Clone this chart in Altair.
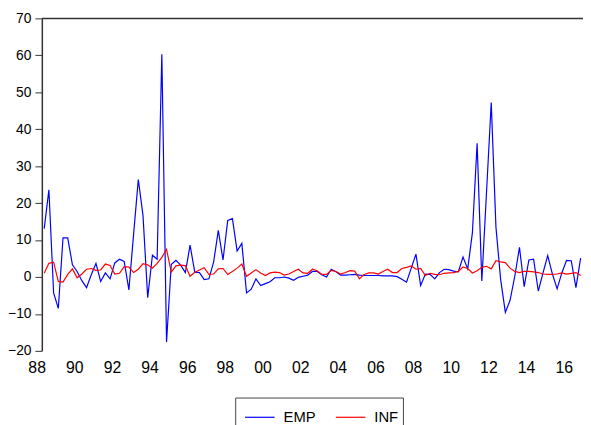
import altair as alt
import pandas as pd

FONT = "Liberation Sans"

# Quarterly observations, first one 1988Q4
first_year, first_quarter = 1988, 4

emp = [13.1, 23.6, -4.3, -8.5, 10.6, 10.6, 3.3, 1.5, -1.0, -2.9,
       0.6, 3.7, -1.2, 1.1, -0.5, 3.8, 4.8, 4.2, -3.5, 11.6,
       26.4, 16.6, -5.6, 5.9, 4.8, 60.3, -17.6, 3.4, 4.5, 3.2,
       1.2, 8.6, 1.3, 1.2, -0.7, -0.5, 4.0, 12.6, 4.6, 15.3,
       15.8, 7.0, 9.1, -4.3, -3.3, -0.5, -2.3, -1.8, -1.3, -0.2,
       -0.2, 0.0, -0.3, -0.9, -0.1, 0.2, 0.5, 1.5, 1.5, 0.6,
       0.0, 2.1, 1.4, 0.5, 0.5, 0.6, 0.7, 0.5, 0.4, 0.4,
       0.4, 0.4, 0.3, 0.3, 0.3, 0.1, -0.6, -1.4, 2.4, 6.2,
       -2.3, 0.8, 0.7, -0.5, 1.2, 2.1, 2.0, 1.6, 1.4, 5.4,
       2.2, 12.0, 36.2, -1.1, 23.0, 47.2, 13.5, -0.7, -9.6, -6.3,
       0.2, 8.0, -2.6, 4.6, 4.8, -3.8, 1.1, 5.8, 0.8, -3.2,
       1.1, 4.5, 4.4, -2.9, 5.1]

inf = [1.0, 3.7, 4.0, -1.2, -1.4, 0.7, 2.2, -0.2, 0.8, 2.1,
       2.3, 1.8, 1.9, 3.5, 3.1, 0.8, 1.0, 2.8, 2.7, 1.2,
       2.1, 3.6, 3.3, 2.4, 3.7, 5.3, 7.5, 1.3, 3.0, 3.2,
       3.1, 0.2, 1.3, 1.9, 2.5, 0.7, 0.8, 2.2, 2.3, 0.7,
       1.5, 2.4, 3.5, 0.2, 1.1, 2.0, 1.1, 0.4, 1.1, 1.3,
       1.2, 0.5, 0.8, 1.5, 2.1, 1.1, 1.0, 2.1, 1.7, 0.7,
       0.7, 1.8, 1.5, 0.8, 1.2, 1.7, 1.6, -0.5, 0.7, 1.1,
       1.1, 0.8, 1.5, 2.1, 1.2, 1.2, 2.3, 2.6, 3.0, 2.1,
       2.3, 0.4, 1.0, 0.7, 0.6, 1.0, 1.1, 1.2, 1.5, 2.7,
       2.3, 1.1, 1.7, 2.6, 2.9, 2.2, 4.4, 4.1, 3.9, 2.4,
       1.5, 1.2, 1.5, 1.5, 1.4, 1.2, 0.8, 0.7, 0.7, 0.8,
       1.1, 0.8, 1.0, 1.2, 0.4]

series_names = ["EMP", "INF"]
series_colors = ["#0000FF", "#FF0000"]

label_years = list(range(1988, 2017, 2))
label_text = [f"{yr % 100:02d}" for yr in label_years]
tick_years = list(range(1989, 2018))
y_ticks = list(range(-20, 80, 10))

# quarter labels
quarters = []
yy, qq = first_year, first_quarter
for _ in range(len(emp)):
    quarters.append(f"{yy}Q{qq}")
    qq += 1
    if qq > 4:
        qq, yy = 1, yy + 1


def qpos(label):
    y, q = label.split("Q")
    return int(y) + (int(q) - 1) / 4 + 0.125


rows = []
for name, vals in zip(series_names, [emp, inf]):
    for qlab, v in zip(quarters, vals):
        rows.append({"quarter": qlab, "t": qpos(qlab), "value": v, "series": name})
df = pd.DataFrame(rows)

x_domain = [qpos(quarters[0]) - 0.125, qpos(quarters[-1]) + 0.125]

W, H = 548.5, 337

xscale = alt.Scale(domain=x_domain, nice=False, zero=False)

lines = alt.Chart(df).mark_line(strokeWidth=1.2).encode(
    x=alt.X("t:Q", scale=xscale,
            axis=alt.Axis(values=tick_years, labels=False, title=None, grid=False,
                          tickSize=5, tickWidth=1)),
    y=alt.Y("value:Q", scale=alt.Scale(domain=[-20, 70], nice=False, zero=False),
            axis=alt.Axis(values=y_ticks, title=None, grid=False, tickSize=7,
                          labelPadding=4, labelFontSize=14)),
    color=alt.Color("series:N",
                    scale=alt.Scale(domain=series_names, range=series_colors),
                    legend=alt.Legend(orient="none", legendX=196, legendY=384.3,
                                      direction="horizontal", title=" ",
                                      titleOrient="bottom", titleFontSize=10,
                                      titlePadding=4, padding=4, symbolOffset=5,
                                      symbolType="stroke", symbolSize=900,
                                      symbolStrokeWidth=1.2, labelFontSize=15,
                                      labelFont=FONT, labelColor="black",
                                      labelOffset=8, columnPadding=14,
                                      strokeColor="#444")),
    order=alt.Order("t:Q"),
)

labels_df = pd.DataFrame({"t": [yr + 0.5 for yr in label_years], "label": label_text})
labels = alt.Chart(labels_df).mark_text(
    fontSize=16, font=FONT, baseline="middle", align="center", color="black"
).encode(
    x=alt.X("t:Q", scale=xscale, axis=None),
    y=alt.value(H + 17),
    text="label:N",
)

top = alt.Chart(pd.DataFrame({"a": [0]})).mark_rule(color="#333", strokeWidth=1.5).encode(
    x=alt.value(0), x2=alt.value(W + 10), y=alt.value(0)
)

chart = alt.layer(lines, labels, top).properties(
    width=W, height=H,
    autosize=alt.AutoSizeParams(type="none"),
    padding={"left": 34.3, "top": 7.7, "right": 0, "bottom": 72.3},
).configure_view(stroke=None).configure_axis(
    domainColor="#333", domainWidth=1.5, tickColor="#333",
    labelColor="black", labelFont=FONT,
)

chart.save("out.html", embed_options={"renderer": "svg", "actions": False})
